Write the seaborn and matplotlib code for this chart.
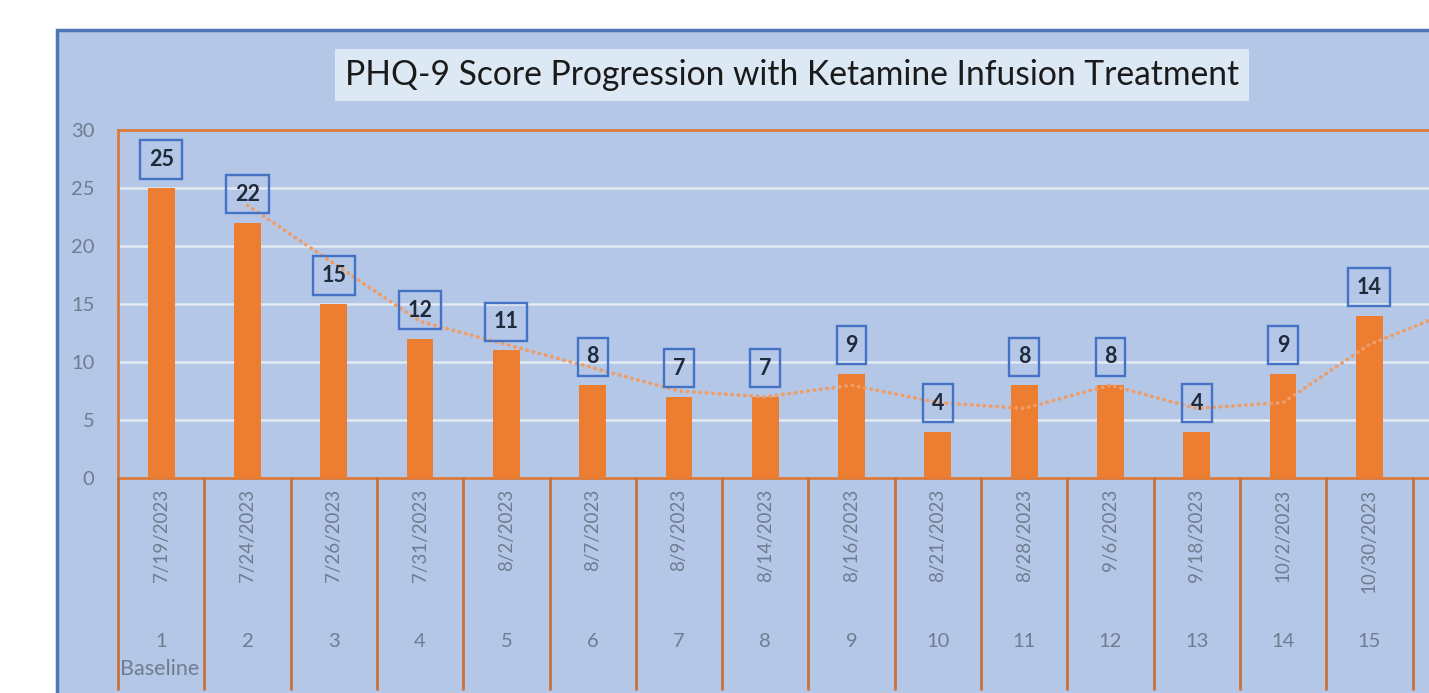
import pandas as pd
import numpy as np
from matplotlib import pyplot as plt
from matplotlib.patches import Rectangle
from matplotlib.transforms import blended_transform_factory
import seaborn as sns

# data (16th session is cut off at the right edge)
sessions = list(range(1, 17))
dates = ['7/19/2023', '7/24/2023', '7/26/2023', '7/31/2023', '8/2/2023', '8/7/2023',
         '8/9/2023', '8/14/2023', '8/16/2023', '8/21/2023', '8/28/2023', '9/6/2023',
         '9/18/2023', '10/2/2023', '10/30/2023', '']
scores = [25, 22, 15, 12, 11, 8, 7, 7, 9, 4, 8, 8, 4, 9, 14, 15]
n_visible = 15

df = pd.DataFrame({'Session': sessions, 'Date': dates, 'PHQ9': scores})
# Excel "2 per. moving average" trendline
df['MA'] = df['PHQ9'].rolling(2).mean()

sns.set_theme(style='white')
plt.rcParams['font.family'] = ['Lato', 'DejaVu Sans']

bg = '#B4C7E7'
orange = '#ED7D31'
grey = '#707C90'

W, H = 1429, 693
fig = plt.figure(figsize=(W / 100, H / 100), dpi=100)
fig.patch.set_facecolor('white')

# chart area (cropped on the right / bottom)
fig.patches.append(Rectangle((57 / W, -0.1), 1.2, 1 - 30 / H + 0.1, transform=fig.transFigure,
                             facecolor=bg, edgecolor='#4F76B8', linewidth=2.5, zorder=-1))

cat_w = 86.3
ax = fig.add_axes([118 / W, 1 - 478 / H, 16 * cat_w / W, 348 / H])
ax.set_zorder(2)
ax.set_facecolor('none')

sns.barplot(data=df, x='Session', y='PHQ9', color=orange, width=0.31,
            saturation=1, linewidth=0, edgecolor='none', ax=ax, zorder=3)

ax.plot(np.arange(16), df['MA'], color='#EF9D68', linewidth=2.7,
        linestyle=(0, (0.1, 1.6)), dash_capstyle='round', zorder=4)

ax.set_xlim(-0.5, 15.5)
ax.set_ylim(0, 30)
ax.set_yticks(range(0, 31, 5))
ax.yaxis.grid(True, color='#E4EAF4', linewidth=1.8, zorder=0)
ax.set_axisbelow(True)
ax.tick_params(axis='y', length=0, pad=17, labelsize=14.5, labelcolor=grey)
ax.set_ylabel('')
ax.set_xlabel('')

for s in ax.spines.values():
    s.set_color('#DB7A3A')
    s.set_linewidth(2)

# multi-level category axis
ax.set_xticks(range(16))
ax.set_xticklabels(df['Date'], rotation=90, va='top', fontsize=13.5, color=grey)
ax.tick_params(axis='x', length=0, pad=8)

tr = blended_transform_factory(ax.transData, ax.transAxes)
for i, s in enumerate(df['Session'][:n_visible]):
    ax.text(i, -0.47, str(s), transform=tr, ha='center', va='center',
            fontsize=14.5, color=grey, clip_on=False)
ax.text(-0.48, -0.55, 'Baseline', transform=tr, ha='left', va='center',
        fontsize=15.5, color=grey, clip_on=False)
for b in np.arange(-0.5, 16, 1):
    ax.plot([b, b], [0, -0.605], transform=tr, color='#C8703A', linewidth=2,
            clip_on=False, zorder=5)

# data labels in boxes
for i, v in enumerate(df['PHQ9'][:n_visible]):
    ax.text(i, v + 1.55, str(v), ha='center', va='bottom', fontsize=15.5,
            fontweight='bold', color='#1F2A3A', zorder=6,
            bbox=dict(boxstyle='square,pad=0.4', facecolor='none',
                      edgecolor='#4472C4', linewidth=1.7))

fig.text(792 / W, 1 - 75 / H, 'PHQ-9 Score Progression with Ketamine Infusion Treatment',
         ha='center', va='center', fontsize=24.2, color='#1A1A1A',
         bbox=dict(boxstyle='square,pad=0.3', facecolor='#DCE9F5', edgecolor='none'))

fig.savefig('out.png', dpi=100)
